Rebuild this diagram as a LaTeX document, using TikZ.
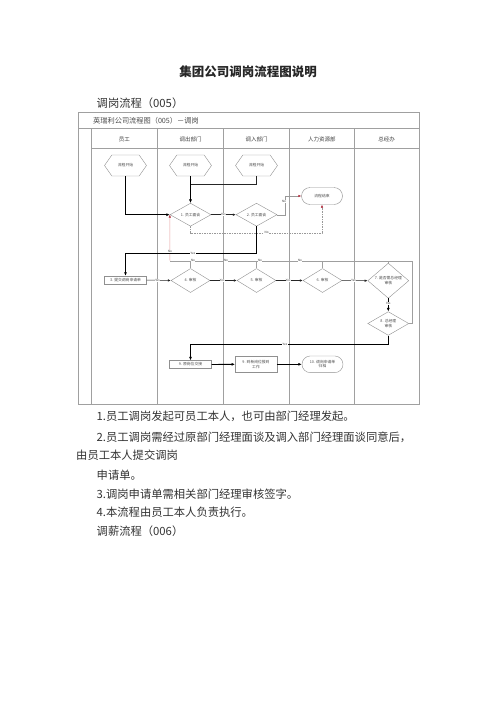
\documentclass[tikz,border=0pt]{standalone}
\usepackage{fontspec}
\setmainfont{Noto Sans CJK SC}
\usetikzlibrary{shapes.geometric,shapes.symbols,shapes.misc,arrows.meta}
\definecolor{frm}{HTML}{A0A0A0}
\definecolor{shp}{HTML}{909090}
\definecolor{txt}{HTML}{333333}
\definecolor{pinkln}{HTML}{E8A0A0}
\definecolor{redtip}{HTML}{B03040}
\begin{document}
\begin{tikzpicture}[x=1pt,y=-1pt,
  frameln/.style={draw=frm, line width=0.7pt},
  hexs/.style={signal, signal to=east and west, signal pointer angle=110, draw=shp, line width=0.4pt, minimum width=42pt, minimum height=21pt, inner sep=0pt, font=\fontsize{3.8}{4.5}\selectfont, text=black!70},
  dia/.style={diamond, draw=shp, line width=0.4pt, minimum width=41pt, minimum height=23pt, inner sep=0pt, align=center, font=\fontsize{3.8}{4.5}\selectfont, text=black!70},
  boxs/.style={rectangle, draw=shp, line width=0.4pt, minimum width=42pt, minimum height=8pt, inner sep=0pt, align=center, font=\fontsize{3.8}{4.5}\selectfont, text=black!70},
  term/.style={rounded rectangle, draw=shp, line width=0.4pt, minimum width=41pt, minimum height=17pt, inner sep=0pt, align=center, font=\fontsize{3.8}{4.5}\selectfont, text=black!70},
  hdr/.style={font=\fontsize{5.5}{6}\selectfont, text=black!75},
  flow/.style={draw=black, line width=0.9pt, -{Latex[length=3.5pt,width=3pt]}},
  thinb/.style={draw=black!85, line width=0.5pt},
  thinarr/.style={draw=black!85, line width=0.5pt, -{Latex[length=3pt,width=2.5pt]}},
  redarr/.style={draw=gray!80, line width=0.4pt, -{Latex[length=3pt,width=2.5pt,color=redtip]}},
  dashln/.style={draw=gray!80, line width=0.4pt, dash pattern=on 1.5pt off 1pt, -{Latex[length=3pt,width=2.5pt,color=redtip]}},
  fbk/.style={draw=gray!75, line width=0.4pt},
  lbl/.style={font=\fontsize{3}{3}\selectfont, fill=white, inner sep=0.3pt, text=black!80},
  body/.style={anchor=west, font=\fontsize{11.3}{12}\selectfont, text=txt, inner sep=0pt}
]
\useasboundingbox (0,0) rectangle (496,702);
\fill[white] (0,0) rectangle (496,702);

% page texts
\node[font=\bfseries\fontsize{12.5}{13}\selectfont, text=black!85] (title) at (248,72) {集团公司调岗流程图说明};
\node[body] (sub) at (96.5,103.5) {调岗流程（005）};

% frame
\draw[frameln] (78,112) rectangle (419,404);
\draw[frameln] (78,128.7) -- (419,128.7);
\draw[frameln] (91.3,148.7) -- (419,148.7);
\foreach \xx in {91.3,157.3,223.7,289.3,354.3} \draw[frameln] (\xx,128.7) -- (\xx,404);
\node[anchor=west, font=\fontsize{7.2}{8}\selectfont, text=black!70, inner sep=0pt] (dtitle) at (93,121) {英瑞利公司流程图（005）－调岗};

\node[hdr] (l1) at (124.3,139.7) {员工};
\node[hdr] (l2) at (190.5,139.7) {调出部门};
\node[hdr] (l3) at (256.5,139.7) {调入部门};
\node[hdr] (l4) at (321.8,139.7) {人力资源部};
\node[hdr] (l5) at (386.7,139.7) {总经办};

% nodes
\node[hexs] (h1) at (125.5,165.5) {流程开始};
\node[hexs] (h2) at (190.5,165.5) {流程开始};
\node[hexs] (h3) at (256.5,165.5) {流程开始};
\node[dia] (d1) at (190.5,214.7) {1. 员工面谈};
\node[dia] (d2) at (256.5,214.7) {2. 员工面谈};
\node[term] (e1) at (322,196) {流程结束};
\node[boxs] (b3) at (125.5,280) {3. 提交调岗申请单};
\node[dia, minimum width=39pt, minimum height=24pt] (d4) at (190.5,280.5) {4. 审核};
\node[dia, minimum width=39pt, minimum height=24pt] (d5) at (256.5,280.5) {5. 审核};
\node[dia, minimum width=39pt, minimum height=24pt] (d6) at (322.5,280.5) {6. 审核};
\node[dia, minimum width=41pt, minimum height=23pt] (d7) at (388.3,280.7) {7. 是否需总经理\\审核};
\node[dia, minimum width=41pt, minimum height=19pt] (d8) at (388.3,323.5) {8. 总经理\\审核};
\node[boxs] (b9) at (190.5,364.5) {9. 原岗位交接};
\node[boxs, minimum width=41.5pt, minimum height=16.7pt] (b10) at (256,364.3) {9. 到新岗位报到\\工作};
\node[term, minimum height=16.7pt] (e2) at (322.5,364.3) {10. 调岗申请单\\归档};

% coordinates
\coordinate (j1) at (190.5,184);
\coordinate (c2) at (256.5,253.3);
\coordinate (c3) at (285,214.7);
\coordinate (c4) at (190.5,232.7);
\coordinate (c5) at (322,232.7);
\coordinate (fbL) at (170,260.7);
\coordinate (fbR) at (411.7,260.7);
\coordinate (c6) at (388.3,344.3);

% feedback lines
\draw[fbk] (d4.north) |- (fbL);
\draw[fbk] (d5.north) |- (fbL);
\draw[fbk] (d6.north) |- (fbL);
\draw[fbk] (d7.north) |- (fbL);
\draw[fbk] (d8.east) -| (fbR) -- (fbL);
\draw[draw=pinkln, line width=0.5pt, -{Latex[length=3pt,width=2.5pt,color=redtip]}] (fbL) -- (d1.west);
\node[lbl] (n1) at (170,251.3) {No};
\node[lbl] (n2) at (193,260.7) {No};
\node[lbl] (n3) at (226,260.7) {No};
\node[lbl] (n4) at (260,260.7) {No};
\node[lbl] (n5) at (300,260.7) {No};

% start connectors
\draw[flow] (h1.south) |- (d1.west);
\draw[flow] (h2.south) -- (d1.north);
\draw[thinb] (h3.south) |- (j1);

% interview row
\draw[thinarr] (d1.east) -- (d2.west) node[lbl, midway] (y1) {Yes};
\draw[redarr] (d2.east) -- (c3) |- (e1.west);
\node[lbl] (n6) at (284,201.7) {No};
\draw[dashln] (d1.south) -- (c4) -- (c5) -- (e1.south);
\node[lbl] (n7) at (266.7,232.7) {No};
\draw[flow] (d2.south) -- (c2) -| (b3.north);
\node[lbl] (y2) at (193,253.3) {Yes};

% approval row
\draw[thinarr] (b3.east) -- (d4.west) node[lbl, pos=0.45] (y3) {Yes};
\draw[thinarr] (d4.east) -- (d5.west) node[lbl, pos=0.45] (y4) {Yes};
\draw[thinarr] (d5.east) -- (d6.west) node[lbl, pos=0.45] (y5) {Yes};
\draw[thinarr] (d6.east) -- (d7.west) node[lbl, pos=0.45] (y6) {Yes};
\draw[flow] (d7.south) -- (d8.north) node[lbl, pos=0.4] (y7) {Yes};

% final row
\draw[flow] (d8.south) -- (c6) -| (b9.north);
\node[lbl] (y8) at (285,344.3) {Yes};
\draw[flow] (b9.east) -- (b10.west);
\draw[flow] (b10.east) -- (e2.west);

% body text
\node[body] (t1) at (96.5,416.7) {1.员工调岗发起可员工本人，也可由部门经理发起。};
\node[body] (t2) at (96.5,437.3) {2.员工调岗需经过原部门经理面谈及调入部门经理面谈同意后，};
\node[body] (t3) at (76,455) {由员工本人提交调岗};
\node[body] (t4) at (96.5,475) {申请单。};
\node[body] (t5) at (96.5,494.3) {3.调岗申请单需相关部门经理审核签字。};
\node[body] (t6) at (96.5,512.5) {4.本流程由员工本人负责执行。};
\node[body] (t7) at (96.5,531) {调薪流程（006）};
\end{tikzpicture}
\end{document}
